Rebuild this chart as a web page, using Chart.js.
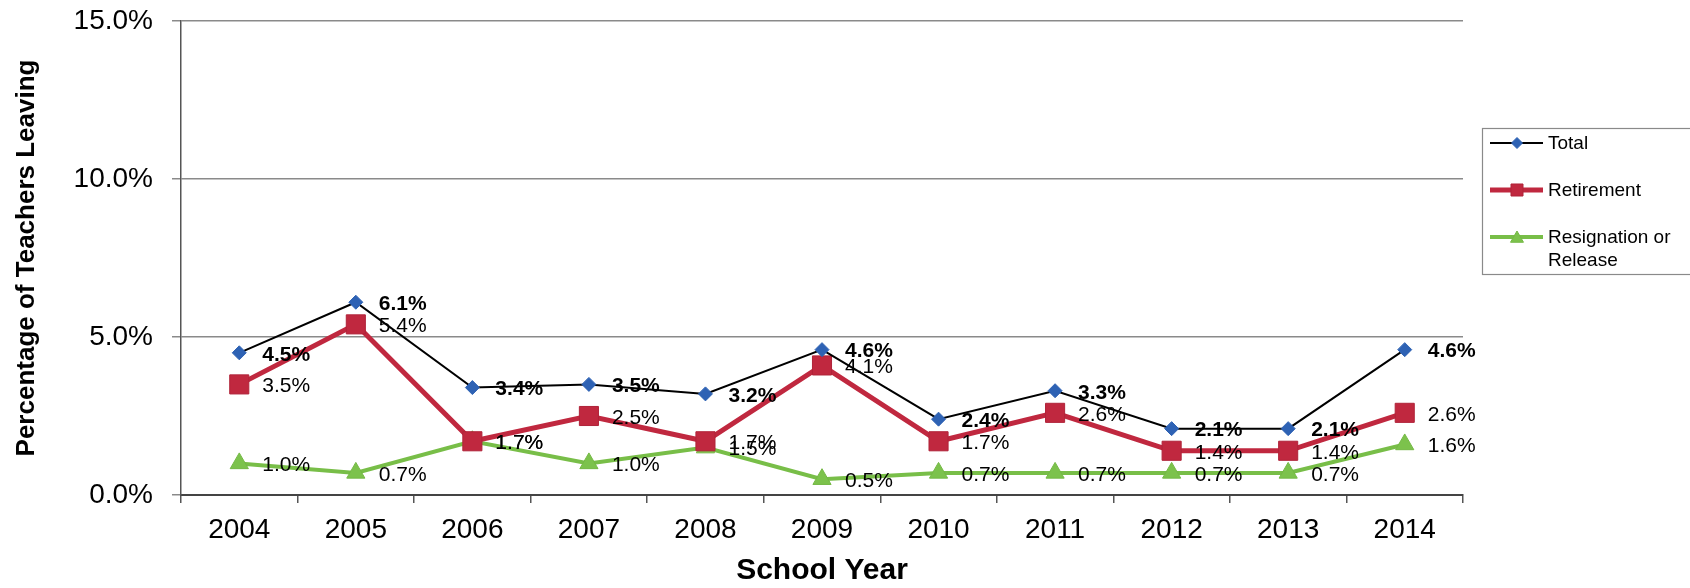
<!DOCTYPE html>
<html><head><meta charset="utf-8">
<script src="https://cdn.jsdelivr.net/npm/chart.js@4/dist/chart.umd.min.js"></script>
<style>html,body{margin:0;padding:0;background:#fff;overflow:hidden;} #wrap{width:1690px;height:588px;position:relative;}</style>
</head><body><div id="wrap"><canvas id="c" width="1690" height="588"></canvas></div>
<script>
const years = ['2004','2005','2006','2007','2008','2009','2010','2011','2012','2013','2014'];
const totalValues = [4.5, 6.1, 3.4, 3.5, 3.2, 4.6, 2.4, 3.3, 2.1, 2.1, 4.6];
const retirementValues = [3.5, 5.4, 1.7, 2.5, 1.7, 4.1, 1.7, 2.6, 1.4, 1.4, 2.6];
const resignationValues = [1.0, 0.7, 1.7, 1.0, 1.5, 0.5, 0.7, 0.7, 0.7, 0.7, 1.6];
const seriesNames = ['Total', 'Retirement', 'Resignation or Release'];
const legendText = [['Total'], ['Retirement'], ['Resignation or', 'Release']];
const yMin = 0, yMax = 15, yStep = 5;
const xTitle = 'School Year';
const yTitle = 'Percentage of Teachers Leaving';

const FONT = '"Liberation Sans", Arial, Helvetica, sans-serif';

function drawMarker(ctx, style, r, x, y, fill, stroke) {
  ctx.save();
  ctx.fillStyle = fill; ctx.strokeStyle = stroke; ctx.lineWidth = 1;
  ctx.beginPath();
  if (style === 'rectRot') {
    ctx.moveTo(x - r, y); ctx.lineTo(x, y - r); ctx.lineTo(x + r, y); ctx.lineTo(x, y + r);
  } else if (style === 'rect') {
    const s = Math.SQRT1_2 * r;
    ctx.rect(x - s, y - s, 2 * s, 2 * s);
  } else {
    const a = 2 * Math.PI / 3;
    ctx.moveTo(x, y - r);
    ctx.lineTo(x + Math.sin(a) * r, y - Math.cos(a) * r);
    ctx.lineTo(x + Math.sin(2 * a) * r, y - Math.cos(2 * a) * r);
  }
  ctx.closePath(); ctx.fill(); ctx.stroke();
  ctx.restore();
}

const labelPlugin = {
  id: 'pointLabels',
  afterDatasetsDraw(chart) {
    const ctx = chart.ctx;
    chart.data.datasets.forEach((ds, di) => {
      const meta = chart.getDatasetMeta(di);
      ctx.save();
      ctx.font = (di === 0 ? 'bold ' : '') + '21px ' + FONT;
      ctx.fillStyle = '#000';
      ctx.textAlign = 'left';
      ctx.textBaseline = 'middle';
      meta.data.forEach((pt, i) => {
        ctx.fillText(ds.data[i].toFixed(1) + '%', pt.x + 23, pt.y + 2);
      });
      ctx.restore();
    });
  }
};

const legendPlugin = {
  id: 'customLegend',
  afterDraw(chart) {
    const ctx = chart.ctx;
    ctx.save();
    ctx.strokeStyle = '#8a8a8a';
    ctx.lineWidth = 1.2;
    ctx.strokeRect(1482.5, 128.5, 240, 146);
    const rows = [143, 190, 237];
    chart.data.datasets.forEach((ds, di) => {
      const y = rows[di];
      ctx.strokeStyle = ds.borderColor;
      ctx.lineWidth = ds.borderWidth;
      ctx.beginPath(); ctx.moveTo(1490, y); ctx.lineTo(1543, y); ctx.stroke();
      const r = di === 0 ? 5.5 : (di === 1 ? 8.5 : 7.5);
      drawMarker(ctx, ds.pointStyle, r, 1517, y + (di === 2 ? 1.5 : 0), ds.pointBackgroundColor, ds.pointBorderColor);
      ctx.fillStyle = '#000';
      ctx.font = '19px ' + FONT;
      ctx.textAlign = 'left';
      ctx.textBaseline = 'middle';
      legendText[di].forEach((t, li) => ctx.fillText(t, 1548, y + 1 + li * 23));
    });
    ctx.restore();
  }
};

new Chart(document.getElementById('c'), {
  type: 'line',
  data: {
    labels: years,
    datasets: [
      {
        label: seriesNames[0], data: totalValues,
        borderColor: '#000000', borderWidth: 2,
        pointStyle: 'rectRot', pointRadius: 7, pointHoverRadius: 7,
        pointBackgroundColor: '#2e62b4', pointBorderColor: '#2e62b4', pointBorderWidth: 1,
        tension: 0, clip: false
      },
      {
        label: seriesNames[1], data: retirementValues,
        borderColor: '#c0283f', borderWidth: 5,
        pointStyle: 'rect', pointRadius: 13.5, pointHoverRadius: 13.5,
        pointBackgroundColor: '#c0283f', pointBorderColor: '#b02339', pointBorderWidth: 1,
        tension: 0, clip: false
      },
      {
        label: seriesNames[2], data: resignationValues,
        borderColor: '#78be48', borderWidth: 4,
        pointStyle: 'triangle', pointRadius: 10.5, pointHoverRadius: 10.5,
        pointBackgroundColor: '#7cc24c', pointBorderColor: '#74b844', pointBorderWidth: 1,
        tension: 0, clip: false
      }
    ]
  },
  options: {
    responsive: false, animation: false, devicePixelRatio: 1,
    layout: { padding: { left: 0, top: 21, right: 227, bottom: 0 } },
    plugins: { legend: { display: false }, tooltip: { enabled: false } },
    scales: {
      x: {
        offset: true,
        grid: { offset: true, drawOnChartArea: false, drawTicks: true, tickLength: 8, color: '#555', lineWidth: 1.5 },
        border: { display: true, color: '#444', width: 2 },
        ticks: { color: '#000', font: { family: FONT, size: 28 }, padding: 10, maxRotation: 0, autoSkip: false },
        title: { display: true, text: xTitle, color: '#000', font: { family: FONT, size: 30, weight: 'bold', lineHeight: 1 }, padding: { top: 0, bottom: 2 } },
        afterFit(s) { s.height = 93; s.paddingLeft = 0; s.paddingRight = 0; }
      },
      y: {
        min: yMin, max: yMax,
        grid: { color: '#8a8a8a', lineWidth: 1.5, drawTicks: true, tickLength: 9 },
        border: { display: true, color: '#555', width: 1.5 },
        ticks: { stepSize: yStep, color: '#000', font: { family: FONT, size: 28 }, padding: 19,
          callback: v => v.toFixed(1) + '%' },
        title: { display: true, text: yTitle, color: '#000', font: { family: FONT, size: 26, weight: 'bold', lineHeight: 1 }, padding: { top: 14, bottom: 0 } },
        afterFit(s) { s.width = 181; s.paddingTop = 0; s.paddingBottom = 0; }
      }
    }
  },
  plugins: [labelPlugin, legendPlugin]
});
</script>
</body></html>
